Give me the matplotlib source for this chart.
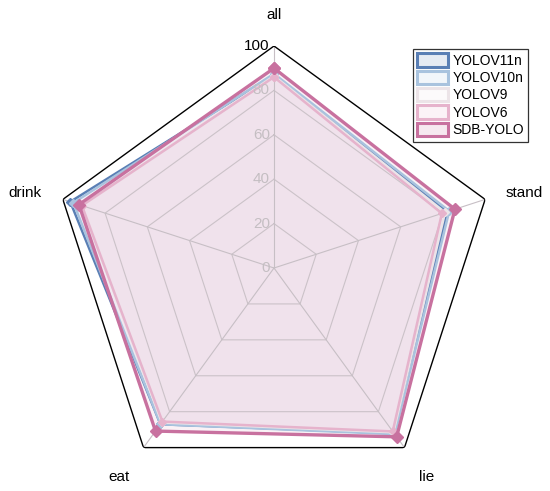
import numpy as np
import matplotlib.pyplot as plt
from matplotlib.patches import Patch
from matplotlib.colors import to_rgb

plt.rcParams['font.family'] = ['Liberation Sans', 'DejaVu Sans']

# categories, clockwise from the top
categories = ['all', 'stand', 'lie', 'eat', 'drink']
models = ['YOLOV11n', 'YOLOV10n', 'YOLOV9', 'YOLOV6', 'SDB-YOLO']
yolov11n = [87.0, 82.0, 92.0, 87.0, 96.5]
yolov10n = [87.5, 83.0, 92.5, 87.0, 95.0]
yolov9 = [86.5, 81.0, 91.5, 86.0, 91.0]
yolov6 = [86.0, 79.5, 91.0, 85.5, 91.0]
sdb_yolo = [90.0, 85.7, 94.0, 90.8, 92.4]
ticks = [0, 20, 40, 60, 80, 100]

series = [yolov11n, yolov10n, yolov9, yolov6, sdb_yolo]
colors = ['#5a7fb5', '#a9c3de', '#ece4e8', '#e6b3cc', '#c8719f']
fills = ['#dcd6ea', '#e4e6f0', '#f3ecf0', '#f0d4e2', '#e2b6cf']
widths = [1.8, 1.8, 1.8, 1.8, 2.4]

n = len(categories)
theta = np.linspace(0, 2 * np.pi, n, endpoint=False)
theta_c = np.append(theta, theta[0])

fig = plt.figure(figsize=(5.5, 4.91), dpi=100)
ax = fig.add_axes([52 / 550, 1 / 491, 444 / 550, 444 / 491], projection='polar')
ax.set_theta_offset(np.pi / 2)
ax.set_theta_direction(-1)
ax.set_ylim(0, 100)
ax.grid(False)
ax.spines['polar'].set_visible(False)
ax.set_xticks([])
ax.set_yticks([])
ax.patch.set_visible(False)

for name, vals, c, fc, lw in zip(models, series, colors, fills, widths):
    v = np.append(vals, vals[0])
    ax.fill(theta_c, v, facecolor=fc, alpha=0.17, edgecolor='none', zorder=1)
    ax.plot(theta_c, v, color=c, lw=lw, marker='D',
            markersize=6 if name == 'SDB-YOLO' else 4, zorder=3)

# polygon grid
for t in ticks[1:-1]:
    ax.plot(theta_c, [t] * (n + 1), color='#cbc2c8', lw=0.8, zorder=2)
for th in theta:
    ax.plot([th, th], [0, 100], color='#c7bfc5', lw=0.8, zorder=2)
ax.plot(theta_c, [100] * (n + 1), color='black', lw=1.0, zorder=6)

for t in ticks:
    ax.annotate(str(t), (0, t), xytext=(-3, 0), textcoords='offset points',
                ha='right', va='center', fontsize=11, annotation_clip=False,
                color='black' if t == 100 else '#c4bec2', zorder=7)

label_off = [(0, 0), (8.5, -2), (0, 1), (-1.5, 1), (-7.5, -2)]
label_r = [114, 113, 117, 117, 113]
for th, lab, r, off in zip(theta, categories, label_r, label_off):
    ax.annotate(lab, (th, r), xytext=off, textcoords='offset points',
                ha='center', va='center', fontsize=11, annotation_clip=False)

handles = [Patch(facecolor=(*to_rgb(c), 0.15), edgecolor=c, linewidth=2.2)
           for c in colors]
leg = fig.legend(handles, models, loc='upper right',
                 bbox_to_anchor=(528 / 550, 1 - 49 / 491), fontsize=10,
                 frameon=True, fancybox=False, edgecolor='black',
                 handlelength=2.2, handleheight=1.1, labelspacing=0.22,
                 handletextpad=0.3, borderpad=0.3, borderaxespad=0)
leg.get_frame().set_linewidth(0.9)

fig.savefig('out.png', dpi=100)
